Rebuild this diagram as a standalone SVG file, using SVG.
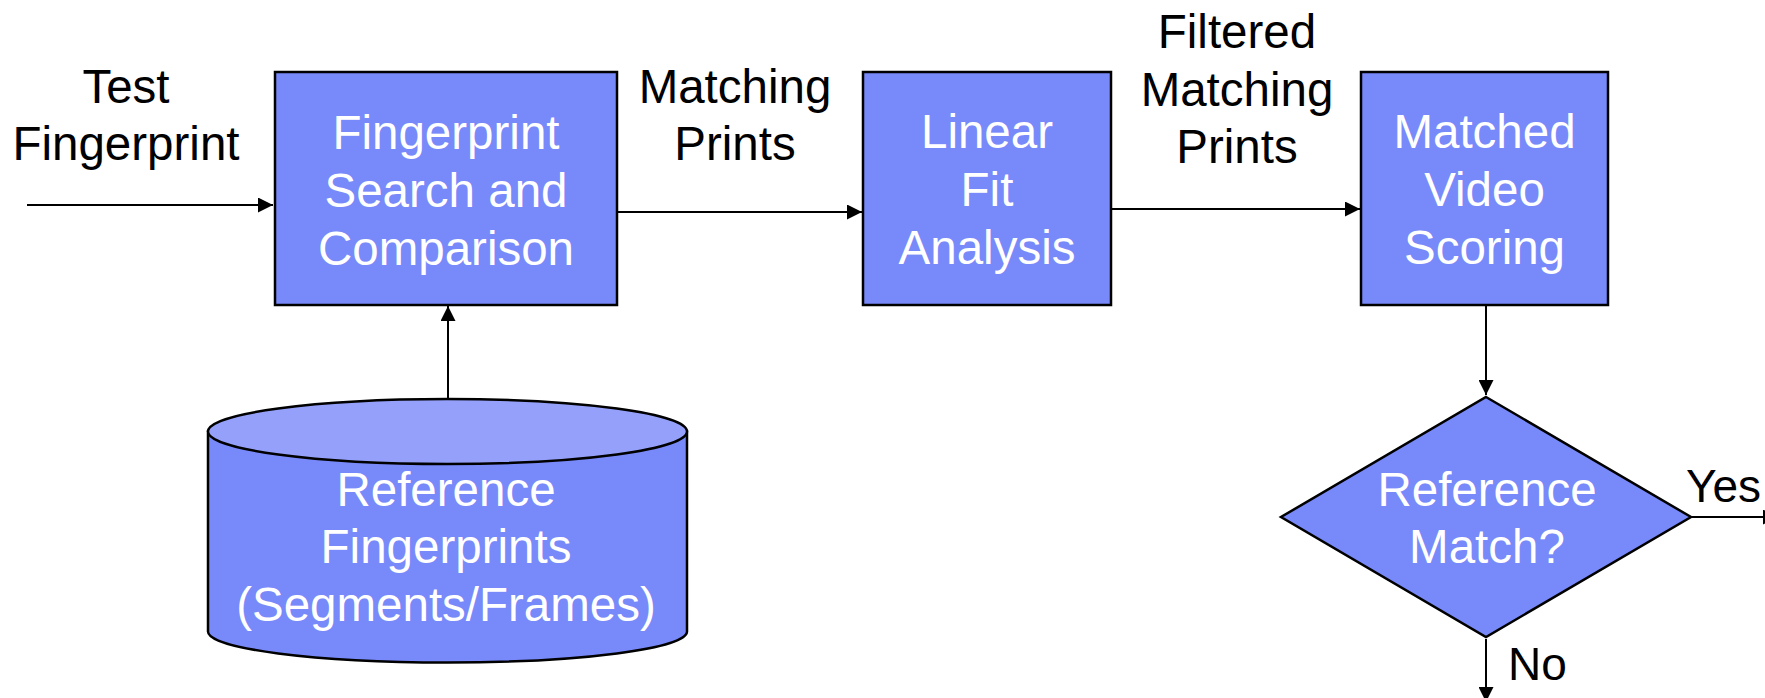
<svg xmlns="http://www.w3.org/2000/svg" width="1765" height="698" viewBox="0 0 1765 698">
  <style>
    .box { fill: #7889fa; stroke: #000; stroke-width: 2.5; }
    .top { fill: #94a0fa; stroke: #000; stroke-width: 2.5; }
    .wt { font-family: "Liberation Sans", Arial, sans-serif; font-size: 47.5px; fill: #fff; text-anchor: middle; }
    .bt { font-family: "Liberation Sans", Arial, sans-serif; font-size: 47.5px; fill: #000; text-anchor: middle; }
    .lbl { font-family: "Liberation Sans", Arial, sans-serif; font-size: 46px; fill: #000; }
    .conn { stroke: #000; stroke-width: 2; fill: none; marker-end: url(#arrow); }
  </style>
  <defs>
    <marker id="arrow" markerUnits="userSpaceOnUse" markerWidth="15" markerHeight="15" refX="15" refY="7.5" orient="auto">
      <path d="M0,0 L15,7.5 L0,15 z" fill="#000"/>
    </marker>
  </defs>

  <rect width="1765" height="698" fill="#fff"/>

  <!-- edges -->
  <g id="connectors">
    <line class="conn" x1="27" y1="205" x2="273" y2="205"/>
    <line class="conn" x1="617" y1="212" x2="862" y2="212"/>
    <line class="conn" x1="1111" y1="209" x2="1360" y2="209"/>
    <line class="conn" x1="448" y1="399" x2="448" y2="306"/>
    <line class="conn" x1="1486" y1="305" x2="1486" y2="395"/>
    <line class="conn" x1="1691" y1="517" x2="1778" y2="517"/>
    <line class="conn" x1="1486" y1="639" x2="1486" y2="702"/>
  </g>

  <!-- edge labels -->
  <g id="label-test">
    <text class="bt" x="126" y="103">Test</text>
    <text class="bt" x="126" y="160">Fingerprint</text>
  </g>
  <g id="label-matching">
    <text class="bt" x="735" y="103">Matching</text>
    <text class="bt" x="735" y="160">Prints</text>
  </g>
  <g id="label-filtered">
    <text class="bt" x="1237" y="48">Filtered</text>
    <text class="bt" x="1237" y="106">Matching</text>
    <text class="bt" x="1237" y="163">Prints</text>
  </g>
  <g id="label-yes">
    <text class="lbl" x="1686" y="502">Yes</text>
  </g>
  <g id="label-no">
    <text class="lbl" x="1508" y="680">No</text>
  </g>

  <!-- process boxes -->
  <g id="search">
    <rect class="box" x="275" y="72" width="342" height="233"/>
    <text class="wt" x="446" y="149">Fingerprint</text>
    <text class="wt" x="446" y="207">Search and</text>
    <text class="wt" x="446" y="265">Comparison</text>
  </g>
  <g id="linear-fit">
    <rect class="box" x="863" y="72" width="248" height="233"/>
    <text class="wt" x="987" y="148">Linear</text>
    <text class="wt" x="987" y="206">Fit</text>
    <text class="wt" x="987" y="264">Analysis</text>
  </g>
  <g id="scoring">
    <rect class="box" x="1361" y="72" width="247" height="233"/>
    <text class="wt" x="1484.5" y="148">Matched</text>
    <text class="wt" x="1484.5" y="206">Video</text>
    <text class="wt" x="1484.5" y="264">Scoring</text>
  </g>

  <!-- reference database -->
  <g id="reference-db">
    <path class="box" d="M208,431.5 L208,631.5 A239.5,31 0 0 0 687,631.5 L687,431.5 Z"/>
    <ellipse class="top" cx="447.5" cy="431.5" rx="239.5" ry="32.5"/>
    <text class="wt" x="446" y="506">Reference</text>
    <text class="wt" x="446" y="563">Fingerprints</text>
    <text class="wt" x="446" y="621">(Segments/Frames)</text>
  </g>

  <!-- decision -->
  <g id="decision">
    <polygon class="box" points="1486,397 1691,517 1486,637 1281,517"/>
    <text class="wt" x="1487" y="506">Reference</text>
    <text class="wt" x="1487" y="563">Match?</text>
  </g>
</svg>
